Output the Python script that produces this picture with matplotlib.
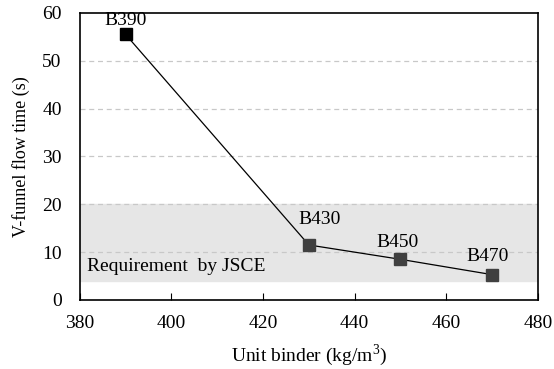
import matplotlib.pyplot as plt

plt.rcParams['font.family'] = ['Liberation Serif', 'DejaVu Serif']
plt.rcParams['mathtext.fontset'] = 'custom'
plt.rcParams['mathtext.rm'] = 'Liberation Serif'

binder = [390, 430, 450, 470]
flow_time = [55.5, 11.5, 8.5, 5.3]
labels = ['B390', 'B430', 'B450', 'B470']
marker_colors = ['#000000', '#404040', '#404040', '#404040']
label_offsets = [(0, 10), (8, 18), (-2, 12), (-3, 13)]
req_low, req_high = 4, 20

fig = plt.figure(figsize=(5.54, 3.69), dpi=100)
ax = fig.add_axes([0.144, 0.187, 0.827, 0.778])

ax.axhspan(req_low, req_high, color='#e6e6e6', zorder=0)
for y in [10, 20, 30, 40, 50]:
    ax.axhline(y, color='#c8c8c8', lw=0.9, ls=(0, (4, 3)), zorder=1)

ax.plot(binder, flow_time, color='black', lw=0.9, zorder=2)
for x, y, c, lab, off in zip(binder, flow_time, marker_colors, labels, label_offsets):
    ax.plot(x, y, 's', color=c, ms=8.5, zorder=3)
    ax.annotate(lab, (x, y), xytext=off, textcoords='offset points',
                ha='center', va='center', fontsize=14)

ax.text(381.5, 7.0, 'Requirement  by JSCE', ha='left', va='center', fontsize=14)

ax.set_xlim(380, 480)
ax.set_ylim(0, 60)
ax.set_xticks([380, 400, 420, 440, 460, 480])
ax.set_yticks([0, 10, 20, 30, 40, 50, 60])
ax.tick_params(axis='x', direction='in', length=5, labelsize=14, pad=11)
ax.tick_params(axis='y', length=0, labelsize=14, pad=13)
for s in ax.spines.values():
    s.set_linewidth(1.2)

ax.set_xlabel('Unit binder (kg/m$^\\mathrm{3}$)', fontsize=14, labelpad=7)
ax.set_ylabel('V-funnel flow time (s)', fontsize=13, labelpad=9)

fig.savefig('out.png', dpi=100)
